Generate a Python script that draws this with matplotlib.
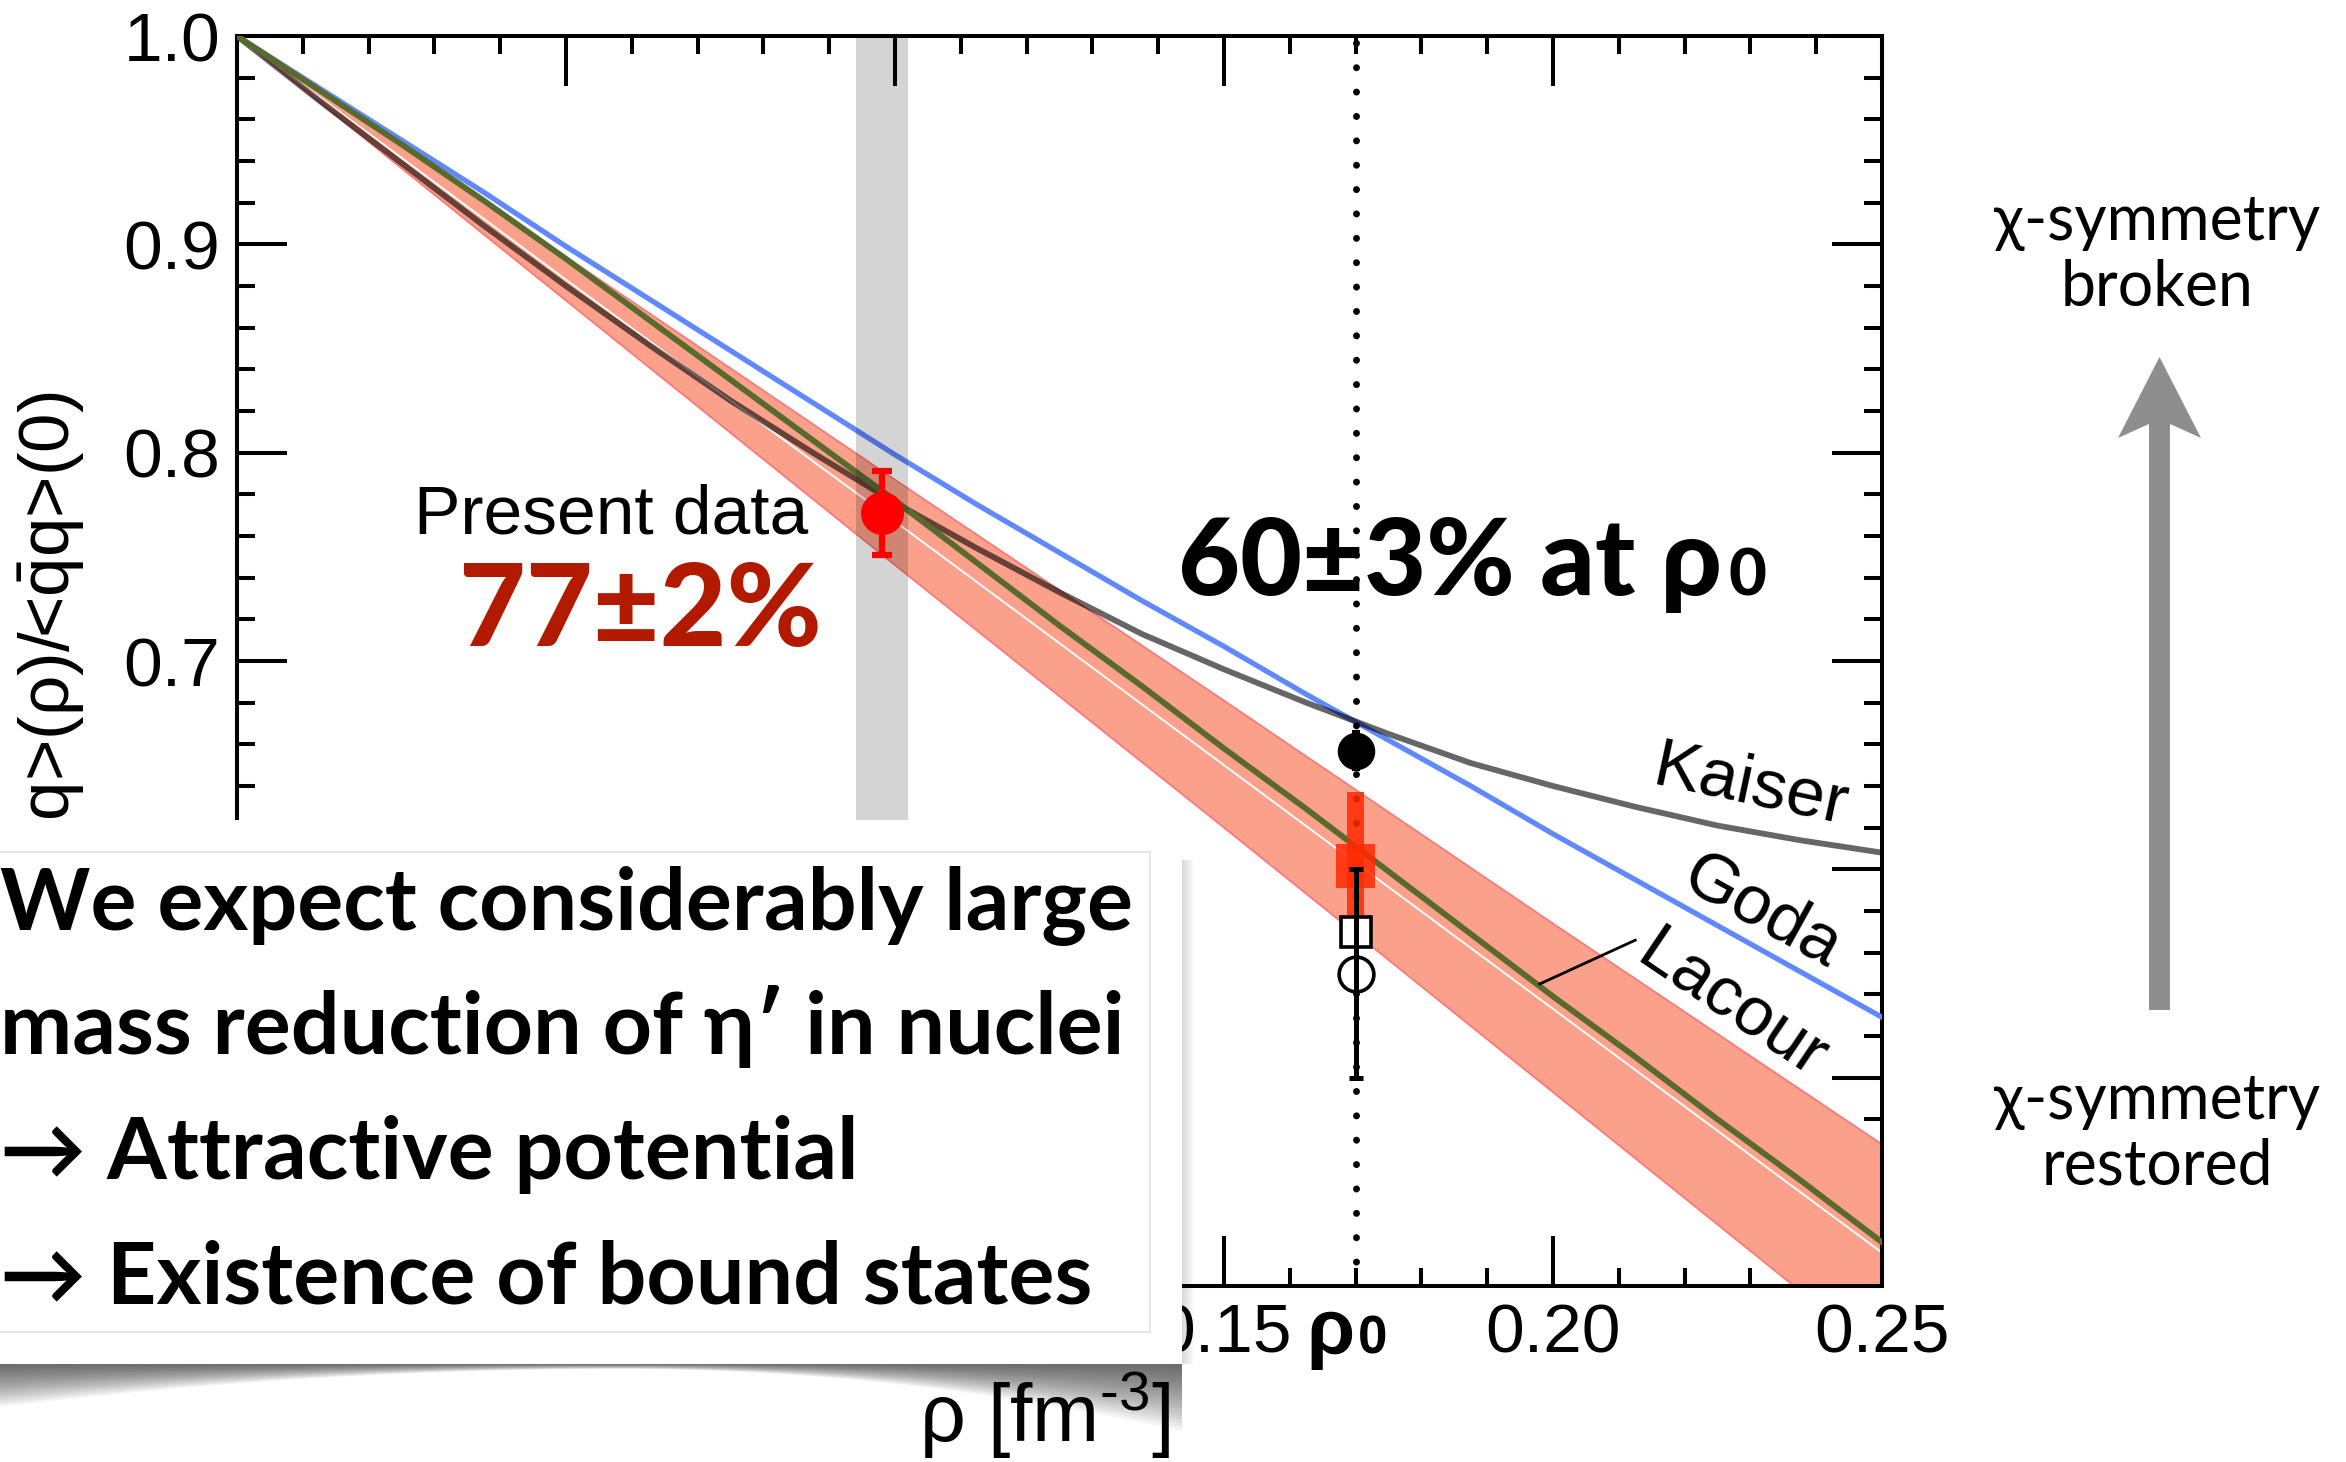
import numpy as np
import matplotlib
matplotlib.use('Agg')
import matplotlib.pyplot as plt
from matplotlib.patches import Polygon, Rectangle

W, H = 2346, 1462

# curves, density in fm^-3
rho = [0.0, 0.0125, 0.025, 0.0375, 0.05, 0.0625, 0.075, 0.0875, 0.10, 0.1125, 0.125,
       0.1375, 0.15, 0.1625, 0.175, 0.1875, 0.20, 0.2125, 0.225, 0.2375, 0.25]
kaiser = [1.0, 0.969, 0.939, 0.909, 0.880, 0.852, 0.825, 0.800, 0.776, 0.754, 0.733,
          0.713, 0.696, 0.680, 0.665, 0.651, 0.640, 0.630, 0.621, 0.614, 0.608]
goda = [1.0, 0.975, 0.950, 0.925, 0.899, 0.874, 0.849, 0.824, 0.799, 0.775, 0.752,
        0.729, 0.707, 0.684, 0.662, 0.640, 0.617, 0.595, 0.573, 0.551, 0.529]
lacour = [1.0, 0.974, 0.948, 0.921, 0.893, 0.864, 0.835, 0.806, 0.777, 0.747, 0.717,
          0.688, 0.658, 0.629, 0.599, 0.569, 0.539, 0.510, 0.480, 0.451, 0.421]

# extrapolated band of the present data
rho_band = [0.0, 0.05, 0.10, 0.15, 0.20, 0.25]
band_mid = [1.0, 0.883, 0.767, 0.650, 0.533, 0.416]
band_lo = [1.0, 0.873, 0.746, 0.620, 0.493, 0.366]
band_hi = [1.0, 0.894, 0.787, 0.681, 0.574, 0.468]

# present data point and its density range
present_rho, present_val, present_err = 0.098, 0.771, 0.020
shade_lo, shade_hi = 0.094, 0.102

# points at normal nuclear density
rho0 = 0.17
filled_val, filled_err = 0.657, 0.009
syst_narrow = (0.578, 0.637)
syst_wide = (0.591, 0.612)
square_val = 0.570
circle_val = 0.550
bar_lo, bar_hi = 0.500, 0.600

# tick labels (the ones under the text box are not visible)
xtick_vals = [0, 0.05, 0.10, 0.15, 0.20, 0.25]
xtick_text = ['', '', '', '0.15', '0.20', '0.25']
ytick_vals = [0.4, 0.5, 0.6, 0.7, 0.8, 0.9, 1.0]
ytick_text = ['', '', '', '0.7', '0.8', '0.9', '1.0']

label_font = ['Liberation Sans', 'DejaVu Sans']
heavy_font = ['Lato', 'DejaVu Sans']

plt.rcParams['mathtext.fontset'] = 'custom'
plt.rcParams['mathtext.rm'] = 'Liberation Sans'
plt.rcParams['mathtext.it'] = 'Liberation Sans:italic'
plt.rcParams['mathtext.bf'] = 'Liberation Sans:bold'

fig = plt.figure(figsize=(W / 100, H / 100), dpi=100)
fig.patch.set_facecolor('white')

ax = fig.add_axes([237 / W, 1 - 1286 / H, (1882 - 237) / W, (1286 - 36) / H])
ax.set_xlim(0, 0.25)
ax.set_ylim(0.4, 1.0)

# band
ax.fill_between(rho_band, band_lo, band_hi, color='#fba08a', lw=0, zorder=2)
ax.plot(rho_band, band_lo, color='#ff7474', lw=1.2, zorder=2.2)
ax.plot(rho_band, band_hi, color='#ff7474', lw=1.2, zorder=2.2)
ax.plot(rho_band, band_mid, color='white', lw=1.4, zorder=2.5)

# model curves
ax.plot(rho, goda, color='#6088ff', lw=3.8, zorder=3)
ax.plot(rho, kaiser, color='black', alpha=0.6, lw=4.2, zorder=3.2)
ax.plot(rho, lacour, color='#586a2c', lw=4.2, zorder=3.4)

# shaded density range of the measurement
ax.axvspan(shade_lo, shade_hi, color='black', alpha=0.17, lw=0, zorder=4)

# rho0 line
ax.axvline(rho0, color='black', lw=5, ls=(0, (0.01, 3.5)), dash_capstyle='round', zorder=5)

# present data
ax.errorbar(present_rho, present_val, yerr=present_err, fmt='o', color='red', ms=30,
            elinewidth=4.5, capsize=7, capthick=4.5, zorder=7)

# other points at rho0
ax.bar(rho0, syst_narrow[1] - syst_narrow[0], bottom=syst_narrow[0], width=0.0025,
       color='#ff2a00', alpha=0.85, lw=0, zorder=5.5)
ax.bar(rho0, syst_wide[1] - syst_wide[0], bottom=syst_wide[0], width=0.006,
       color='#ff2a00', alpha=0.85, lw=0, zorder=5.5)
ax.plot(rho0, square_val, 's', ms=21, mfc='white', mec='black', mew=2.6, zorder=6)
ax.plot(rho0, circle_val, 'o', ms=25, mfc='white', mec='black', mew=2.6, zorder=6)
ax.errorbar(rho0, (bar_lo + bar_hi) / 2, yerr=(bar_hi - bar_lo) / 2, fmt='none',
            ecolor='black', elinewidth=3.6, capsize=5, capthick=3.6, zorder=6.5)
ax.errorbar(rho0, filled_val, yerr=filled_err, fmt='o', color='black', ms=26,
            elinewidth=3, capsize=3, capthick=3, zorder=6.5)

# curve labels
ax.text(0.230, 0.640, 'Kaiser', rotation=-12, fontsize=50, family=label_font,
        ha='center', va='center', rotation_mode='anchor', zorder=8)
ax.text(0.2318, 0.5795, 'Goda', rotation=-29, fontsize=50, family=label_font,
        ha='center', va='center', rotation_mode='anchor', zorder=8)
ax.text(0.2272, 0.5348, 'Lacour', rotation=-34, fontsize=50, family=label_font,
        ha='center', va='center', rotation_mode='anchor', zorder=8)
ax.plot([0.198, 0.2125], [0.545, 0.566], color='black', lw=2, zorder=8)

# axes styling
ax.set_xticks(xtick_vals)
ax.set_xticklabels(xtick_text)
ax.set_xticks(np.arange(0, 0.2501, 0.01), minor=True)
ax.set_yticks(ytick_vals)
ax.set_yticklabels(ytick_text)
ax.set_yticks(np.arange(0.4, 1.001, 0.02), minor=True)
ax.tick_params(which='both', direction='in', top=True, right=True, width=2.9, color='black')
ax.tick_params(which='major', length=36, labelsize=50, pad=12)
ax.tick_params(which='minor', length=13)
for lab in ax.get_xticklabels() + ax.get_yticklabels():
    lab.set_family(label_font)
for s in ax.spines.values():
    s.set_linewidth(2.9)

tr = ax.get_xaxis_transform()
ax.text(0.1698, -0.0544, 'ρ', transform=tr, ha='right', va='baseline', fontsize=56,
        family=label_font, weight='bold')
ax.text(0.1704, -0.0544, '0', transform=tr, ha='left', va='baseline', fontsize=38,
        family=label_font, weight='bold')

# overlay in pixel units for annotations
ov = fig.add_axes([0, 0, 1, 1], zorder=5)
ov.set_xlim(0, W)
ov.set_ylim(H, 0)
ov.axis('off')
ov.patch.set_alpha(0)

ov.text(52, 392, r'<$\bar{\mathrm{q}}$q>(ρ)/<$\bar{\mathrm{q}}$q>(0)', rotation=90,
        ha='center', va='top', fontsize=51, family=label_font, zorder=1)

ov.text(808, 534, 'Present data', ha='right', va='baseline', fontsize=50,
        family=label_font, zorder=6)
ov.text(822, 646, '77±2%', ha='right', va='baseline', fontsize=83, family=heavy_font,
        weight='black', color='#b21a00', zorder=6)
ov.text(1722, 595, '60±3% at ρ', ha='right', va='baseline', fontsize=77,
        family=heavy_font, weight='black', zorder=6)
ov.text(1729, 595, '0', ha='left', va='baseline', fontsize=47,
        family=heavy_font, weight='black', zorder=6)

# text box with a curled shadow
bx0, bx1, by0, by1 = -20, 1182, 820, 1364
xs = np.linspace(0, bx1, 300)
depth = np.where(xs < 620, 5 + 38 * ((620 - xs) / 620) ** 2,
                 5 + 62 * ((xs - 620) / 562) ** 2)
n = 18
for i in range(n):
    f = (i + 1) / n
    yb = by1 + depth * f
    pts = np.column_stack([np.r_[xs, xs[::-1]], np.r_[np.full_like(xs, by1 - 5), yb[::-1]]])
    ov.add_patch(Polygon(pts, closed=True, fc='black', ec='none', alpha=0.045, zorder=2))
for i in range(8):
    w = 2 + 2 * i
    ov.add_patch(Rectangle((bx1 - 4, by0 + 40), w, by1 - by0 - 40, fc='black', ec='none',
                           alpha=0.025, zorder=2))
ov.add_patch(Rectangle((bx0, by0), bx1 - bx0, by1 - by0, fc='white', ec='none', zorder=3))
ov.add_patch(Rectangle((bx0, 852), 1150 - bx0, 1332 - 852, fc='none', ec='#e8e8e8',
                       lw=1.5, zorder=3.5))

box_lines = ['We expect considerably large',
             'mass reduction of η′ in nuclei',
             '→ Attractive potential',
             '→ Existence of bound states']
for k, line in enumerate(box_lines):
    ov.text(0, 930 + 124.5 * k, line, ha='left', va='baseline', fontsize=62,
            family=heavy_font, weight='bold', zorder=4)

ov.text(1045, 1414, r'ρ [fm$^{\text{-3}}$]', ha='center', va='center', fontsize=58,
        family=label_font, zorder=4)

# symmetry arrow on the right
arrow = [(2149, 1010), (2149, 424), (2118, 438), (2159.5, 357), (2201, 438),
         (2170, 424), (2170, 1010)]
ov.add_patch(Polygon(arrow, closed=True, fc='#8e8e8e', ec='none', zorder=3))
ov.text(2157, 255, 'χ-symmetry\nbroken', ha='center', va='center', fontsize=45,
        family=heavy_font, linespacing=1.15, zorder=3)
ov.text(2157, 1134, 'χ-symmetry\nrestored', ha='center', va='center', fontsize=45,
        family=heavy_font, linespacing=1.15, zorder=3)

fig.savefig('out.png', dpi=100, facecolor='white')
